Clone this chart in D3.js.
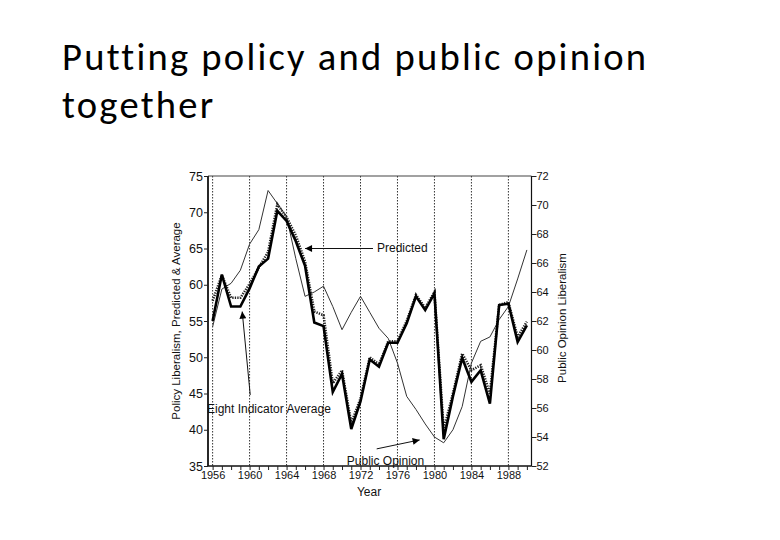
<!DOCTYPE html>
<html>
<head>
<meta charset="utf-8">
<script src="https://cdn.jsdelivr.net/npm/d3@7"></script>
<style>
html,body{margin:0;padding:0;background:#fff;}
svg{display:block;}
</style>
</head>
<body>
<svg id="chart" width="780" height="540"></svg>
<script>
const years = [1956,1957,1958,1959,1960,1961,1962,1963,1964,1965,1966,1967,1968,1969,1970,1971,1972,1973,1974,1975,1976,1977,1978,1979,1980,1981,1982,1983,1984,1985,1986,1987,1988,1989,1990];
const eightIndicatorAverage = [55.0,61.4,57.0,57.0,59.5,62.5,63.6,70.2,68.8,66.0,62.6,54.8,54.3,45.2,47.7,40.1,43.9,49.7,48.7,52.0,52.0,54.7,58.4,56.5,58.8,38.7,44.6,49.9,46.6,48.2,43.6,57.2,57.4,52.1,54.4];
const predicted = [57.8,61.3,58.2,58.2,60.1,62.4,64.5,71.1,69.3,66.8,63.2,56.3,55.8,46.4,48.2,40.9,44.3,50.0,49.0,52.2,52.2,55.0,58.6,56.8,59.0,40.0,45.0,50.5,48.2,48.9,45.0,57.2,57.6,52.8,54.9];
const publicOpinion = [61.6,64.2,64.6,65.5,67.3,68.3,71.0,70.1,69.2,66.3,63.7,64.0,64.4,63.0,61.4,62.6,63.7,62.6,61.5,60.8,59.1,56.8,55.9,54.9,54.0,53.6,54.5,56.1,59.1,60.6,60.9,62.1,63.0,64.9,66.9];
const leftTicks = [35,40,45,50,55,60,65,70,75];
const rightTicks = [52,54,56,58,60,62,64,66,68,70,72];
const yearLabels = [1956,1960,1964,1968,1972,1976,1980,1984,1988];
const minorYears = [1956,1957,1958,1959,1960,1961,1962,1963,1964,1965,1966,1967,1968,1969,1970,1971,1972,1973,1974,1975,1976,1977,1978,1979,1980,1981,1982,1983,1984,1985,1986,1987,1988,1989,1990];

const svg = d3.select("#chart");
const FONT = "'Liberation Sans', Arial, Helvetica, sans-serif";

// Title
const TFS = 38.6;
const title = svg.append("g").attr("font-family","Carlito, 'Open Sans', 'Noto Sans', sans-serif").attr("fill","#000").attr("font-size",TFS);
const line1 = "Putting policy and public opinion";
const t1 = title.append("text").attr("x",62).attr("y",70).text(line1);
const w = t1.node().getComputedTextLength();
const ls = Math.max(0,(583 - w)/(line1.length-1));
t1.attr("letter-spacing",ls);
title.append("text").attr("x",62).attr("y",118).attr("letter-spacing",ls).text("together");

const x = d3.scaleLinear().domain([1955.5,1990.5]).range([208,531.5]);
const yL = d3.scaleLinear().domain([35,75]).range([466,176]);
const yR = d3.scaleLinear().domain([52,72]).range([466,176]);

const g = svg.append("g").attr("font-family",FONT);

// vertical dotted gridlines
g.selectAll("line.grid").data(yearLabels).join("line")
  .attr("x1",d=>x(d)).attr("x2",d=>x(d)).attr("y1",yL(75)).attr("y2",yL(35))
  .attr("stroke","#333").attr("stroke-width",1).attr("stroke-dasharray","1.5,1.5");

// top border
g.append("line").attr("x1",x(1955.5)).attr("x2",x(1990.5)).attr("y1",yL(75)).attr("y2",yL(75))
  .attr("stroke","#444").attr("stroke-width",1.2);

// Axes
const axL = g.append("g").attr("transform",`translate(${x(1955.5)},0)`)
  .call(d3.axisLeft(yL).tickValues(leftTicks).tickSize(4).tickPadding(1).tickFormat(d3.format("d")));
const axR = g.append("g").attr("transform",`translate(${x(1990.5)},0)`)
  .call(d3.axisRight(yR).tickValues(rightTicks).tickSize(5).tickPadding(0).tickFormat(d3.format("d")));
const axB = g.append("g").attr("transform",`translate(0,${yL(35)})`)
  .call(d3.axisBottom(x).tickValues(minorYears).tickSize(4).tickPadding(1)
    .tickFormat(d=> yearLabels.includes(d) ? String(d) : ""));
[axL,axR,axB].forEach(a=>{
  a.selectAll("text").attr("fill","#111").attr("font-family",FONT);
  a.selectAll("line").attr("stroke","#222");
  a.select(".domain").attr("stroke","#111");
});
axL.selectAll("text").attr("font-size",12.5);
axR.selectAll("text").attr("font-size",11);
axB.selectAll("text").attr("font-size",11);
axL.select(".domain").attr("stroke-width",1.8).attr("d",`M0,${yL(35)}V${yL(75)}`);
axR.select(".domain").attr("stroke-width",1.2).attr("d",`M0,${yL(35)}V${yL(75)}`);
axB.select(".domain").attr("stroke-width",1.5).attr("d",`M${x(1955.5)},0H${x(1990.5)}`);

// Lines
const lineL = d3.line().x((d,i)=>x(years[i])).y(d=>yL(d));
const lineR = d3.line().x((d,i)=>x(years[i])).y(d=>yR(d));

g.append("path").datum(publicOpinion).attr("d",lineR)
  .attr("fill","none").attr("stroke","#333").attr("stroke-width",1);
g.append("path").datum(predicted).attr("d",lineL)
  .attr("fill","none").attr("stroke","#222").attr("stroke-width",2.6).attr("stroke-dasharray","1.3,1.2");
g.append("path").datum(eightIndicatorAverage).attr("d",lineL)
  .attr("fill","none").attr("stroke","#000").attr("stroke-width",2.6).attr("stroke-linejoin","miter");

// arrow marker
svg.append("defs").append("marker").attr("id","ah").attr("viewBox","0 0 10 10")
  .attr("refX",10).attr("refY",5).attr("markerWidth",11).attr("markerHeight",7)
  .attr("markerUnits","userSpaceOnUse").attr("orient","auto")
  .append("path").attr("d","M0,0L10,5L0,10Z").attr("fill","#000");

function arrow(x1,y1,x2,y2){
  g.append("line").attr("x1",x1).attr("y1",y1).attr("x2",x2).attr("y2",y2)
    .attr("stroke","#111").attr("stroke-width",1).attr("marker-end","url(#ah)");
}
// Predicted annotation
arrow(x(1973.35),yL(65),x(1966.0),yL(65));
g.append("text").attr("x",377).attr("y",252).attr("font-size",12).attr("fill","#111").text("Predicted");
// Eight indicator
arrow(x(1960.07),yL(44.8),x(1959.2),yL(56.3));
g.append("text").attr("x",207).attr("y",413).attr("font-size",12).attr("fill","#111").text("Eight Indicator Average");
// Public opinion
arrow(x(1973.75),yR(53.18),x(1978.4),yR(53.8));
g.append("text").attr("x",385.5).attr("y",465).attr("text-anchor","middle").attr("font-size",12).attr("fill","#111").text("Public Opinion");

// Axis titles
g.append("text").attr("transform","translate(180,321) rotate(-90)").attr("text-anchor","middle")
  .attr("font-size",11.5).attr("fill","#111").text("Policy Liberalism, Predicted & Average");
g.append("text").attr("transform","translate(566,318) rotate(-90)").attr("text-anchor","middle")
  .attr("font-size",11.5).attr("fill","#111").text("Public Opinion Liberalism");
g.append("text").attr("x",369).attr("y",496).attr("text-anchor","middle")
  .attr("font-size",12).attr("fill","#111").text("Year");
</script>
</body>
</html>
